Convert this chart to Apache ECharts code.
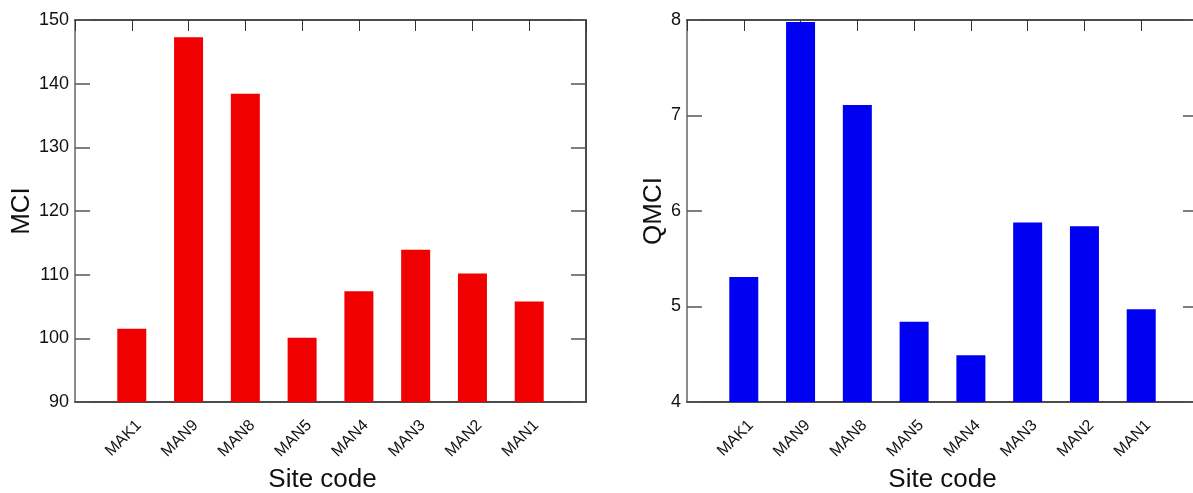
<!DOCTYPE html>
<html>
<head>
<meta charset="utf-8">
<script src="https://cdn.jsdelivr.net/npm/echarts@6/dist/echarts.min.js"></script>
<style>
  html, body { margin: 0; padding: 0; background: #fff; }
  #chart { width: 1193px; height: 493px; }
</style>
</head>
<body>
<div id="chart"></div>
<script>
// Site codes along the x axis (placed at positions 1..8)
const siteCodes = ['MAK1', 'MAN9', 'MAN8', 'MAN5', 'MAN4', 'MAN3', 'MAN2', 'MAN1'];
// Macroinvertebrate Community Index per site
const mciValues = [101.5, 147.3, 138.4, 100.1, 107.4, 113.9, 110.2, 105.8];
// Quantitative MCI per site
const qmciValues = [5.31, 7.98, 7.11, 4.84, 4.49, 5.88, 5.84, 4.97];

const FONT = 'Liberation Sans, Arial, Helvetica, sans-serif';

function toPoints(values) {
  return values.map((v, i) => [i + 1, v]);
}

function siteLabel(v) {
  return (v >= 1 && v <= siteCodes.length) ? siteCodes[v - 1] : '';
}

function bottomAxis(gridIndex, namePadding) {
  return {
    type: 'value', gridIndex, position: 'bottom', min: 0, max: 9, interval: 1,
    name: 'Site code', nameLocation: 'middle', nameGap: 63,
    nameTextStyle: { fontFamily: FONT, fontSize: 26, color: '#111', padding: namePadding },
    axisLine: { onZero: false, lineStyle: { color: '#111', width: 1.5 } },
    axisTick: { inside: true, length: 11, lineStyle: { color: '#333' } },
    axisLabel: {
      rotate: 45, margin: 28, fontFamily: FONT, fontSize: 16, color: '#111',
      padding: [0, -10, 0, 0],
      formatter: siteLabel,
      showMinLabel: false, showMaxLabel: false
    },
    splitLine: { show: false }
  };
}

function topAxis(gridIndex) {
  return {
    type: 'value', gridIndex, position: 'top', min: 0, max: 9, interval: 1,
    axisLine: { onZero: false, lineStyle: { color: '#111', width: 1.5 } },
    axisTick: { inside: true, length: 11, lineStyle: { color: '#333' } },
    axisLabel: { show: false },
    splitLine: { show: false }
  };
}

function leftAxis(gridIndex, name, min, max, interval, gap) {
  return {
    type: 'value', gridIndex, position: 'left', min, max, interval,
    name, nameLocation: 'middle', nameGap: gap,
    nameTextStyle: { fontFamily: FONT, fontSize: 26, color: '#111' },
    axisLine: { show: true, onZero: false, lineStyle: { color: '#666', width: 1.5 } },
    axisTick: { show: true, inside: true, length: 15, lineStyle: { color: '#555', width: 1.5 } },
    axisLabel: { fontFamily: FONT, fontSize: 18, color: '#111', margin: 6 },
    splitLine: { show: false }
  };
}

function rightAxis(gridIndex, min, max, interval) {
  return {
    type: 'value', gridIndex, position: 'right', min, max, interval,
    axisLine: { show: true, onZero: false, lineStyle: { color: '#111', width: 1.5 } },
    axisTick: { show: true, inside: true, length: 15, lineStyle: { color: '#555', width: 1.5 } },
    axisLabel: { show: false },
    splitLine: { show: false }
  };
}

const chart = echarts.init(document.getElementById('chart'), null, { renderer: 'canvas' });

chart.setOption({
  backgroundColor: '#fff',
  animation: false,
  grid: [
    { left: 75, top: 20, width: 511, height: 382, outerBoundsMode: 'none' },
    { left: 687, top: 20, width: 511, height: 382, outerBoundsMode: 'none' }
  ],
  xAxis: [
    bottomAxis(0, [0, 16, 0, 0]), topAxis(0),
    bottomAxis(1, 0), topAxis(1)
  ],
  yAxis: [
    leftAxis(0, 'MCI', 90, 150, 10, 40), rightAxis(0, 90, 150, 10),
    leftAxis(1, 'QMCI', 4, 8, 1, 19), rightAxis(1, 4, 8, 1)
  ],
  series: [
    {
      type: 'bar', xAxisIndex: 0, yAxisIndex: 0, barWidth: 29,
      itemStyle: { color: '#f00000' },
      data: toPoints(mciValues)
    },
    {
      type: 'bar', xAxisIndex: 2, yAxisIndex: 2, barWidth: 29,
      itemStyle: { color: '#0000f2' },
      data: toPoints(qmciValues)
    }
  ]
});
</script>
</body>
</html>
